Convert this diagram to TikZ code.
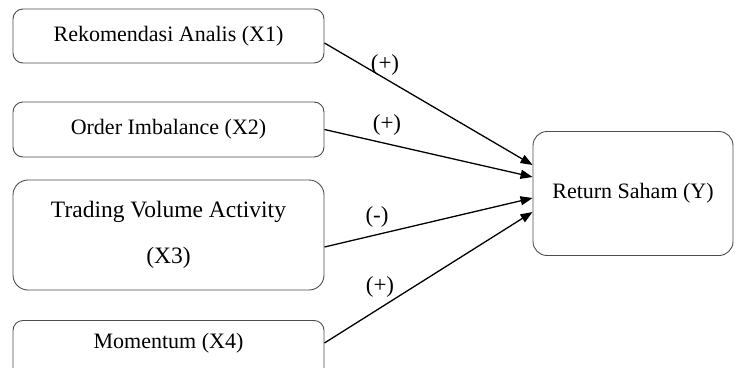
\documentclass[tikz,border=0pt]{standalone}
\usepackage{fontspec}
\setmainfont{Liberation Serif}
\usetikzlibrary{arrows.meta}

\begin{document}
\begin{tikzpicture}[
x=1pt, y=-1pt,
box/.style={
draw=black!70,
line width=0.9pt,
rounded corners=10pt,
align=center,
minimum width=311pt,
font=\fontsize{22}{26}\selectfont
},
sign/.style={
font=\fontsize{23}{26}\selectfont,
inner sep=0pt
},
link/.style={
line width=1.3pt,
-{Triangle[length=12pt,width=9pt]}
}
]

\clip (0,0) rectangle (735,367);

\node[box, minimum height=54pt] (X1) at (168.5,36)
{Rekomendasi Analis (X1)};

\node[box, minimum height=55pt] (X2) at (168.5,129.5)
{Order Imbalance (X2)};

\node[box, minimum height=110pt, rounded corners=15pt,
font=\fontsize{23.5}{46}\selectfont] (X3) at (168.5,235)
{Trading Volume Activity\\(X3)};

\node[box, anchor=north, inner ysep=0pt,
text height=28pt, text depth=40pt] (X4) at (168.5,320)
{Momentum (X4)};

\node[box, minimum width=200pt, minimum height=124pt,
rounded corners=14pt] (Y) at (633,193.5)
{Return Saham (Y)};

\node[sign] (S1) at (385,65) {(+)};
\node[sign] (S2) at (387,125) {(+)};
\node[sign] (S3) at (377,217) {(-)};
\node[sign] (S4) at (380,287) {(+)};

\draw[link] ([yshift=-7pt]X1.east) -- ([yshift=28.5pt]Y.west);
\draw[link] (X2.east) -- ([yshift=16.5pt]Y.west);
\draw[link] ([yshift=-12pt]X3.east) -- ([yshift=-4.5pt]Y.west);
\draw[link] ([yshift=-23pt]X4.north east) -- ([yshift=-18.5pt]Y.west);

\end{tikzpicture}
\end{document}
